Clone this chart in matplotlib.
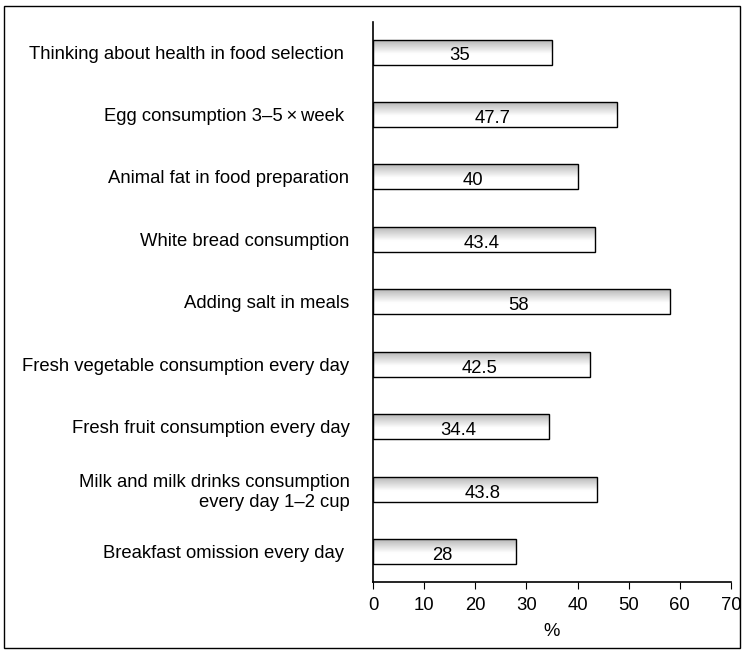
import matplotlib.pyplot as plt
import matplotlib.patches as mpatches
import numpy as np

labels = [
    "Thinking about health in food selection ",
    "Egg consumption 3\u20135\u2009\u00d7\u2009week ",
    "Animal fat in food preparation",
    "White bread consumption",
    "Adding salt in meals",
    "Fresh vegetable consumption every day",
    "Fresh fruit consumption every day",
    "Milk and milk drinks consumption\nevery day 1\u20132 cup",
    "Breakfast omission every day ",
]
values = [35, 47.7, 40, 43.4, 58, 42.5, 34.4, 43.8, 28]
value_text = ["35", "47.7", "40", "43.4", "58", "42.5", "34.4", "43.8", "28"]

plt.rcParams['font.family'] = ['Liberation Sans', 'DejaVu Sans']
fs = 13.3

fig = plt.figure(figsize=(7.45, 6.57), dpi=100)
ax = fig.add_axes([0.5007, 0.1142, 0.4805, 0.8523])

ypos = np.arange(len(values))
bars = ax.barh(ypos, values, height=0.4, color='none', edgecolor='black',
               linewidth=1.0, zorder=3)

# gray at the top of each bar, fading to white towards the bottom
t = np.linspace(0, 1, 60)
shade = np.clip(0.72 + 0.28 * (t / 0.55), 0, 1)
img = np.dstack([shade, shade, shade]).reshape(-1, 1, 3)
for b in bars:
    x0, y0 = b.get_x(), b.get_y()
    w, h = b.get_width(), b.get_height()
    im = ax.imshow(img, aspect='auto', extent=[x0, x0 + w, y0 + h, y0],
                   origin='upper', zorder=2, interpolation='bilinear')
    im.set_clip_path(b)

for y, v, s in zip(ypos, values, value_text):
    ax.text(v / 2 - 0.5, y + 0.06, s, ha='center', va='center', fontsize=fs, zorder=4)

ax.set_xlim(0, 70)
ax.set_ylim(8.48, -0.48)
ax.set_xticks(range(0, 71, 10))
ax.set_yticks(ypos)
ax.set_yticklabels(labels, fontsize=fs, ha='right', multialignment='right')
ax.tick_params(axis='y', length=0, pad=17)
ax.tick_params(axis='x', direction='out', length=5, labelsize=fs, pad=6)
ax.set_xlabel('%', fontsize=fs, labelpad=6)
for s in ['top', 'right']:
    ax.spines[s].set_visible(False)
ax.spines['left'].set_linewidth(1.2)
ax.spines['bottom'].set_linewidth(1.2)

# frame around the whole figure
frame = mpatches.Rectangle((4 / 745, 1 - 648 / 657), 736 / 745, 642 / 657,
                           transform=fig.transFigure, fill=False,
                           edgecolor='black', linewidth=1.0)
fig.patches.append(frame)

fig.savefig('out.png', dpi=100)
